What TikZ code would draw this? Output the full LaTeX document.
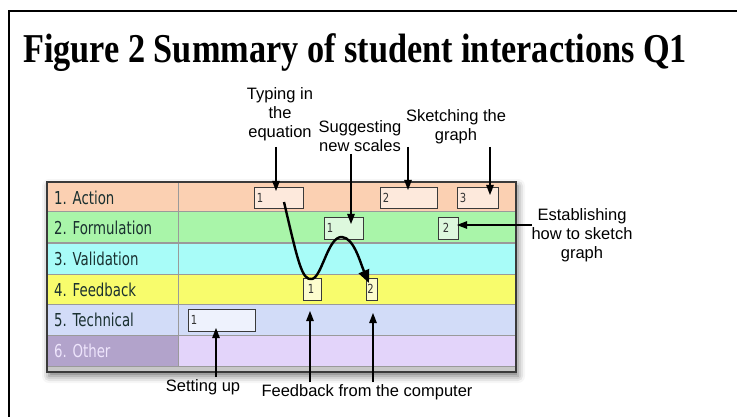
\documentclass[tikz,border=0pt]{standalone}
\usepackage{fontspec}
\setmainfont{Liberation Sans}
\newfontfamily\titlefont{Liberation Serif}
\newfontfamily\rowfont[FakeStretch=0.75]{DejaVu Sans}
\newfontfamily\numfont[FakeStretch=0.8]{DejaVu Sans}
\usetikzlibrary{arrows.meta,shadows.blur}

\definecolor{actionbg}{HTML}{FBD0B2}
\definecolor{formbg}{HTML}{A9F5A9}
\definecolor{validbg}{HTML}{A8FCF8}
\definecolor{feedbg}{HTML}{F8FC6C}
\definecolor{techbg}{HTML}{D2DCF8}
\definecolor{otherbg}{HTML}{E3D4FA}
\definecolor{otherlab}{HTML}{B2A3CB}
\definecolor{actionbox}{HTML}{FDE9DC}
\definecolor{formbox}{HTML}{DDF8DD}
\definecolor{feedbox}{HTML}{FCFCCE}
\definecolor{techbox}{HTML}{EEF2FD}
\definecolor{labtext}{HTML}{1A3030}
\definecolor{rule}{HTML}{9A9A9A}
\definecolor{boxline}{HTML}{3A3A3A}

\begin{document}
\begin{tikzpicture}[x=1pt,y=-1pt,
  arr/.style={draw=black,line width=1.3pt,-{Triangle[length=10pt,width=7.5pt]}},
  flow/.style={draw=black,line width=2.4pt,-{Triangle[length=13pt,width=11pt]}},
  note/.style={font=\fontsize{16.5}{18.8}\selectfont,align=center,inner sep=0pt},
  rowlab/.style={font=\rowfont\fontsize{17.8}{18}\selectfont,anchor=west,inner sep=0pt,text=labtext},
  evbox/.style={draw=boxline,line width=0.8pt,inner sep=0pt,minimum height=#1},
  evbox/.default=21pt,
  num/.style={font=\numfont\fontsize{12.5}{13}\selectfont,text=black!80,anchor=west,inner sep=0pt}]

\useasboundingbox (0,0) rectangle (737,417);

% outer frame
\draw[line width=2pt] (9,417) -- (9,11) -- (737,11);

% title
\node[anchor=base west,inner sep=0pt] (title) at (23,63)
  {\scalebox{0.836}[1]{\titlefont\bfseries\fontsize{41}{44}\selectfont Figure 2 Summary of student interactions Q1}};

% table body with its shadow
\fill[white,blur shadow={shadow xshift=2pt,shadow yshift=-4pt,shadow blur radius=7pt,shadow opacity=55}]
  (47,182) rectangle (516,372);
\fill[actionbg] (47,182) rectangle (516,212);
\fill[formbg]   (47,212) rectangle (516,243);
\fill[validbg]  (47,243) rectangle (516,274);
\fill[feedbg]   (47,274) rectangle (516,304);
\fill[techbg]   (47,304) rectangle (516,335);
\fill[otherbg]  (47,335) rectangle (516,366);
\fill[otherlab] (47,335) rectangle (178,366);
\fill[black!22] (47,366) rectangle (516,372);
\foreach \yy in {212,243,274,304,335,366}
  \draw[rule,line width=1pt] (47,\yy) -- (516,\yy);
\draw[rule,line width=1pt] (178,182) -- (178,366);
\draw[boxline,line width=1.4pt] (47,182) rectangle (516,372);

% row labels
\node[rowlab] (l1) at (54,197.5) {1. Action};
\node[rowlab] (l2) at (54,228)   {2. Formulation};
\node[rowlab] (l3) at (54,259)   {3. Validation};
\node[rowlab] (l4) at (54,289.5) {4. Feedback};
\node[rowlab] (l5) at (54,320)   {5. Technical};
\node[rowlab,text=otherbg!60!white] (l6) at (54,351) {6. Other};

% event boxes
\node[evbox,fill=actionbox,minimum width=49pt] (a1) at (278.5,197.5) {};
\node[evbox,fill=actionbox,minimum width=57pt] (a2) at (408.5,197.5) {};
\node[evbox,fill=actionbox,minimum width=41pt] (a3) at (477.5,197.5) {};
\node[evbox=22pt,fill=formbox,minimum width=39pt] (f1) at (343.5,228) {};
\node[evbox=22pt,fill=formbox,minimum width=20pt] (f2) at (448,228) {};
\node[evbox=22pt,fill=feedbox,minimum width=18pt] (b1) at (312,289) {};
\node[evbox=22pt,fill=feedbox,minimum width=11pt] (b2) at (371.5,289) {};
\node[evbox=22pt,fill=techbox,minimum width=67pt] (t1) at (221.5,320) {};

\node[num] at ([xshift=3pt]a1.west) {1};
\node[num] at ([xshift=3pt]a2.west) {2};
\node[num] at ([xshift=3pt]a3.west) {3};
\node[num] at ([xshift=3pt]f1.west) {1};
\node[num] at ([xshift=5pt]f2.west) {2};
\node[num] at ([xshift=5pt]b1.west) {1};
\node[num] at ([xshift=1.5pt]b2.west) {2};
\node[num] at ([xshift=3pt]t1.west) {1};

% annotations
\node[note] (typing) at (280,114) {Typing in\\the\\equation};
\node[note] (suggest) at (360,136) {Suggesting\\new scales};
\node[note] (sketch) at (456,127) {Sketching the\\graph};
\node[note] (establish) at (582,235) {Establishing\\how to sketch\\graph};
\node[note] (setting) at (203,387) {Setting up};
\node[note] (fbcomp) at (367,392) {Feedback from the computer};

% arrow ends
\coordinate (typS) at (276,147);  \coordinate (typE) at (276,191);
\coordinate (sugS) at (351,154);  \coordinate (sugE) at (351,224);
\coordinate (skS1) at (408,147);  \coordinate (skE1) at (408,190);
\coordinate (skS2) at (490,147);  \coordinate (skE2) at (490,195);
\coordinate (estS) at (532,225);  \coordinate (estE) at (457,225);
\coordinate (setS) at (216,377);  \coordinate (setE) at (216,328);
\coordinate (fbS1) at (310,382);  \coordinate (fbE1) at (310,311);
\coordinate (fbS2) at (373,382);  \coordinate (fbE2) at (373,313);

\draw[arr] (typS) -- (typE);
\draw[arr] (sugS) -- (sugE);
\draw[arr] (skS1) -- (skE1);
\draw[arr] (skS2) -- (skE2);
\draw[arr] (estS) -- (estE);
\draw[arr] (setS) -- (setE);
\draw[arr] (fbS1) -- (fbE1);
\draw[arr] (fbS2) -- (fbE2);

% sequence of events
\coordinate (cStart) at (284,202);
\coordinate (cLow)   at (312,279);
\coordinate (cHigh)  at (342,237);
\coordinate (cEnd)   at (369,283);
\draw[flow] (cStart) .. controls (298,262) and (302,281) .. (cLow)
  .. controls (322,277) and (328,236) .. (cHigh)
  .. controls (354,238) and (360,262) .. (cEnd);
\end{tikzpicture}
\end{document}
